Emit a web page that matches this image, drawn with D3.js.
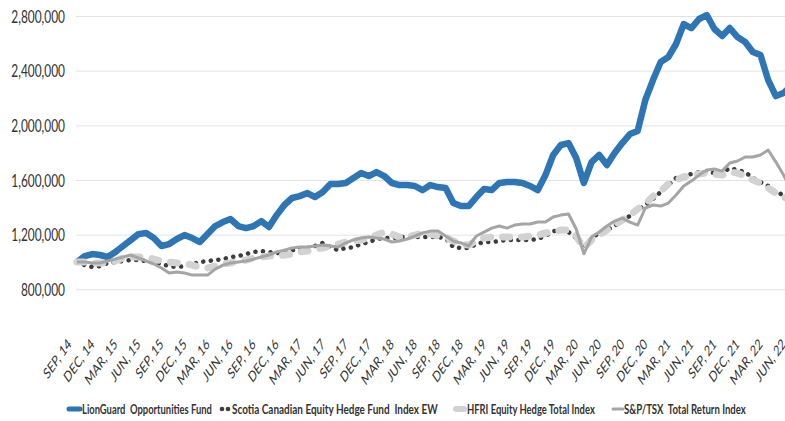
<!DOCTYPE html>
<html><head><meta charset="utf-8">
<script src="https://cdn.jsdelivr.net/npm/d3@7/dist/d3.min.js"></script>
<style>
body{margin:0;background:#fff;overflow:hidden}
svg{display:block}
text{font-family:Lato,"Open Sans",sans-serif}
</style></head>
<body><svg id="c" width="785" height="421"></svg>
<script>
// ---------- DATA ----------
const startMonth = new Date(2014, 8, 1);   // Sep 2014
const nMonths = 94;                         // Sep 2014 .. Jun 2022
const months = d3.timeMonth.range(startMonth, d3.timeMonth.offset(startMonth, nMonths));

const tickLabels = ["SEP, 14","DEC, 14","MAR, 15","JUN, 15","SEP, 15","DEC, 15","MAR, 16","JUN, 16",
  "SEP, 16","DEC, 16","MAR, 17","JUN, 17","SEP, 17","DEC, 17","MAR, 18","JUN, 18",
  "SEP, 18","DEC, 18","MAR, 19","JUN, 19","SEP, 19","DEC, 19","MAR, 20","JUN, 20",
  "SEP, 20","DEC, 20","MAR, 21","JUN, 21","SEP, 21","DEC, 21","MAR, 22","JUN, 22"];

const yTicks = [800000, 1200000, 1600000, 2000000, 2400000, 2800000];

const seriesNames = ["LionGuard  Opportunities Fund", "Scotia Canadian Equity Hedge Fund  Index EW",
  "HFRI Equity Hedge Total Index", "S&P/TSX  Total Return Index"];

// values in thousands of dollars
const lionGuard = [1000,1043,1058,1051,1036,1073,1117,1160,1204,1212,
  1175,1117,1131,1168,1197,1175,1146,1204,1263,1292,
  1314,1263,1248,1263,1299,1256,1343,1417,1468,1482,
  1504,1475,1512,1570,1570,1578,1614,1651,1629,1658,
  1629,1578,1563,1563,1556,1526,1563,1548,1541,1431,
  1409,1409,1475,1534,1526,1578,1585,1585,1578,1556,
  1526,1636,1783,1856,1870,1761,1578,1731,1783,1709,
  1797,1870,1936,1958,2185,2331,2463,2500,2595,2741,
  2712,2778,2807,2705,2654,2712,2646,2610,2536,2514,
  2331,2214,2236,2288];
const scotia = [1000,977,963,970,992,999,1007,1014,1014,1007,
  999,985,970,963,970,985,999,1007,1014,1021,
  1036,1043,1058,1073,1080,1073,1065,1073,1087,1095,
  1102,1117,1139,1109,1087,1102,1109,1131,1146,1168,
  1175,1175,1182,1182,1182,1182,1182,1182,1175,1109,
  1102,1102,1131,1146,1146,1153,1161,1161,1161,1161,
  1168,1190,1226,1234,1219,1175,1109,1175,1212,1234,
  1263,1307,1336,1380,1417,1461,1512,1563,1614,1629,
  1644,1658,1658,1651,1651,1687,1673,1658,1614,1585,
  1556,1512,1490,1468];
const hfri = [1000,999,992,992,992,1007,1029,1036,1036,1036,
  1021,1007,999,992,992,977,963,956,970,985,
  992,1007,1014,1029,1036,1043,1043,1051,1058,1073,
  1080,1095,1102,1117,1131,1146,1153,1161,1175,1197,
  1219,1204,1182,1182,1197,1212,1204,1190,1182,1153,
  1131,1124,1153,1175,1182,1182,1182,1182,1182,1190,
  1197,1212,1219,1234,1234,1190,1102,1161,1197,1234,
  1270,1307,1343,1387,1424,1482,1519,1570,1600,1622,
  1636,1644,1651,1644,1636,1658,1651,1629,1600,1578,
  1541,1504,1475,1453];
const tsx = [1000,999,992,992,1007,1021,1036,1051,1029,1007,
  985,956,919,926,919,904,904,904,948,977,
  992,999,1007,1021,1036,1051,1073,1087,1102,1109,
  1109,1117,1124,1117,1109,1139,1161,1175,1182,1175,
  1168,1146,1153,1168,1190,1212,1226,1226,1190,1153,
  1139,1117,1190,1219,1248,1263,1248,1270,1278,1278,
  1292,1292,1329,1343,1351,1241,1060,1182,1219,1263,
  1299,1321,1292,1270,1395,1417,1409,1431,1490,1556,
  1592,1636,1673,1680,1665,1724,1739,1768,1768,1783,
  1819,1731,1636,1526];
const UNIT = 1000;

// ---------- CHART ----------
const svg = d3.select("#c");
const plot = {left: 76, right: 785, top: 16, bottom: 289.3};
const xFirst = 77, xStep = 7.68;

const x = d3.scalePoint().domain(months).range([xFirst, xFirst + xStep * (nMonths - 1)]);
const y = d3.scaleLinear().domain([800000, 2800000]).range([plot.bottom, plot.top]);

// the reference chart is horizontally compressed; mimic it on text
const squash = 0.70;

// gridlines + y labels via axis
const yAxis = d3.axisLeft(y).tickValues(yTicks).tickFormat(d3.format(",")).tickSize(-(plot.right - plot.left)).tickPadding(0);
const gy = svg.append("g").attr("transform", `translate(${plot.left},0)`).call(yAxis);
gy.select(".domain").remove();
gy.selectAll(".tick line").attr("stroke", "#e3e3e3").attr("stroke-width", 1);
gy.selectAll(".tick text")
  .attr("fill", "#333").attr("font-size", 17).attr("dy", "0.36em")
  .attr("x", 0)
  .attr("transform", `translate(-11,0) scale(${squash},1)`);

// x labels
const gx = svg.append("g");
tickLabels.forEach((lab, k) => {
  const m = months[k * 3];
  gx.append("text")
    .attr("transform", `translate(${x(m) - 5},345) scale(${squash},1) rotate(-45)`)
    .attr("text-anchor", "end")
    .attr("font-size", 15)
    .attr("fill", "#333")
    .text(lab);
});

// lines
const line = d3.line().x((d, i) => x(months[i])).y(d => y(d * UNIT));
const gl = svg.append("g");
gl.append("path").datum(lionGuard).attr("d", line)
  .attr("fill", "none").attr("stroke", "#2E75B6").attr("stroke-width", 6.5).attr("stroke-linejoin", "round");
gl.append("path").datum(scotia).attr("d", line)
  .attr("fill", "none").attr("stroke", "#3d3d3d").attr("stroke-width", 4.5)
  .attr("stroke-linecap", "round").attr("stroke-dasharray", "0.1,7.5");
gl.append("path").datum(hfri).attr("d", line)
  .attr("fill", "none").attr("stroke", "#d2d2d2").attr("stroke-width", 7)
  .attr("stroke-linecap", "round").attr("stroke-linejoin", "round").attr("stroke-dasharray", "7,12");
gl.append("path").datum(tsx).attr("d", line)
  .attr("fill", "none").attr("stroke", "#a5a5a5").attr("stroke-width", 3).attr("stroke-linejoin", "round");

// legend
const lg = svg.append("g").attr("transform", "translate(0,409)");
const legendTextX = [82, 232, 467, 624];
const legendTextW = [130, 206, 128, 122];
lg.append("line").attr("x1", 69).attr("x2", 80).attr("y1", 0).attr("y2", 0)
  .attr("stroke", "#2E75B6").attr("stroke-width", 5).attr("stroke-linecap", "round");
lg.append("circle").attr("cx", 222).attr("cy", 0).attr("r", 2.3).attr("fill", "#3d3d3d");
lg.append("circle").attr("cx", 228).attr("cy", 0).attr("r", 2.3).attr("fill", "#3d3d3d");
lg.append("line").attr("x1", 456).attr("x2", 464).attr("y1", 0).attr("y2", 0)
  .attr("stroke", "#d2d2d2").attr("stroke-width", 6).attr("stroke-linecap", "round");
lg.append("line").attr("x1", 613).attr("x2", 623).attr("y1", 0).attr("y2", 0)
  .attr("stroke", "#a5a5a5").attr("stroke-width", 3).attr("stroke-linecap", "round");
seriesNames.forEach((n, i) => {
  const t = lg.append("text").attr("x", 0).attr("y", 0).attr("dy", "0.36em")
    .attr("font-size", 13.5).attr("font-weight", 700).attr("fill", "#333")
    .style("white-space", "pre").text(n);
  const natural = t.node().getComputedTextLength();
  t.attr("transform", `translate(${legendTextX[i]},0) scale(${legendTextW[i] / natural},1)`);
});
</script>
</body></html>
